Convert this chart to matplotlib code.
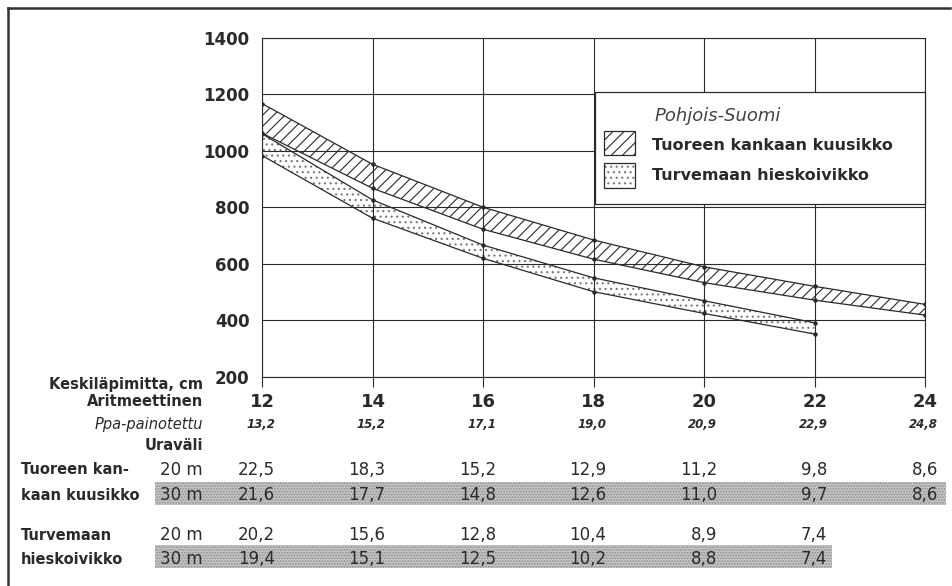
import matplotlib
matplotlib.use("Agg")
import matplotlib.pyplot as plt
import matplotlib.transforms as mtransforms
from matplotlib.patches import Rectangle
from matplotlib.lines import Line2D

# Keskiläpimitta (aritmeettinen), cm
diameters = [12, 14, 16, 18, 20, 22, 24]
ppa_weighted = [13.2, 15.2, 17.1, 19.0, 20.9, 22.9, 24.8]

# Tuoreen kankaan kuusikko, band limits
spruce_d = [12, 14, 16, 18, 20, 22, 24]
spruce_upper = [1167, 952, 800, 684, 589, 520, 456]
spruce_lower = [1062, 867, 722, 616, 533, 471, 418]

# Turvemaan hieskoivikko, band limits
birch_d = [12, 14, 16, 18, 20, 22]
birch_upper = [1060, 826, 666, 550, 469, 391]
birch_lower = [983, 761, 619, 501, 424, 351]

# table values (uraväli 20 m / 30 m)
spruce_20 = [22.5, 18.3, 15.2, 12.9, 11.2, 9.8, 8.6]
spruce_30 = [21.6, 17.7, 14.8, 12.6, 11.0, 9.7, 8.6]
birch_20 = [20.2, 15.6, 12.8, 10.4, 8.9, 7.4]
birch_30 = [19.4, 15.1, 12.5, 10.2, 8.8, 7.4]

yticks = [200, 400, 600, 800, 1000, 1200, 1400]

W, H = 952, 586
plt.rcParams['font.family'] = ['DejaVu Sans']
plt.rcParams['hatch.linewidth'] = 0.8
INK = '#2a2a2a'
DOTS = '#777777'


def fy(py):
    # pixel row -> figure fraction
    return 1 - py / H


def fmt(v):
    return f"{v:.1f}".replace('.', ',')


fig = plt.figure(figsize=(W / 100, H / 100), dpi=100)
ax = fig.add_axes([262 / W, fy(376.7), (925 - 262) / W, (376.7 - 37.7) / H])

ax.set_xlim(12, 24)
ax.set_ylim(200, 1400)
ax.set_xticks(diameters)
ax.set_yticks(yticks)
ax.grid(True, color=INK, linewidth=0.8)
for s in ax.spines.values():
    s.set_color(INK)
    s.set_linewidth(0.8)
ax.tick_params(axis='x', length=7, width=0.8, color=INK, labelbottom=False)
ax.tick_params(axis='y', length=0, pad=9, labelsize=12, labelcolor=INK)
for lab in ax.get_yticklabels():
    lab.set_fontweight('bold')

# bands
ax.fill_between(spruce_d, spruce_lower, spruce_upper, facecolor='none',
                edgecolor=INK, hatch='///', linewidth=0)
ax.fill_between(birch_d, birch_lower, birch_upper, facecolor='none',
                edgecolor=DOTS, hatch='...', linewidth=0)
for xs, ys in [(spruce_d, spruce_upper), (spruce_d, spruce_lower),
               (birch_d, birch_upper), (birch_d, birch_lower)]:
    ax.plot(xs, ys, color=INK, linewidth=0.9, marker='o', markersize=2.2)

# legend box
lx0, lx1, ly0, ly1 = 595, 925, 92, 204
fig.patches.append(Rectangle((lx0 / W, fy(ly1)), (lx1 - lx0) / W, (ly1 - ly0) / H,
                             transform=fig.transFigure, facecolor='white',
                             edgecolor=INK, linewidth=0.9, zorder=5))
fig.patches.append(Rectangle((604 / W, fy(155)), 31 / W, 24 / H, transform=fig.transFigure,
                             facecolor='white', edgecolor=INK, hatch='///',
                             linewidth=0.9, zorder=6))
fig.patches.append(Rectangle((604 / W, fy(188)), 31 / W, 25 / H, transform=fig.transFigure,
                             facecolor='white', edgecolor=DOTS, hatch='...',
                             linewidth=0, zorder=6))
fig.patches.append(Rectangle((604 / W, fy(188)), 31 / W, 25 / H, transform=fig.transFigure,
                             facecolor='none', edgecolor=INK, linewidth=0.9, zorder=6))
fig.text(655 / W, fy(116), 'Pohjois-Suomi', style='italic', fontweight='light',
         fontsize=13, color='#444444', va='center', zorder=7)
fig.text(652 / W, fy(146), 'Tuoreen kankaan kuusikko', fontweight='bold',
         fontsize=11.5, color=INK, va='center', zorder=7)
fig.text(652 / W, fy(175), 'Turvemaan hieskoivikko', fontweight='bold',
         fontsize=11.5, color=INK, va='center', zorder=7)

# table under the chart
tcol = mtransforms.blended_transform_factory(ax.transData, fig.transFigure)
tcol = mtransforms.offset_copy(tcol, fig=fig, x=13, y=0, units='dots')

left_r = 203 / W
fig.text(left_r, fy(384), 'Keskiläpimitta, cm', ha='right', va='center',
         fontweight='bold', fontsize=10.5, color=INK)
fig.text(left_r, fy(402), 'Aritmeettinen', ha='right', va='center',
         fontweight='bold', fontsize=10.5, color=INK)
fig.text(left_r, fy(424), 'Ppa-painotettu', ha='right', va='center',
         style='italic', fontsize=10.5, color=INK)
fig.text(left_r, fy(445), 'Uraväli', ha='right', va='center',
         fontweight='bold', fontsize=10.5, color=INK)

for d, p in zip(diameters, ppa_weighted):
    fig.text(d, fy(402), str(d), transform=tcol, ha='right', va='center',
             fontweight='bold', fontsize=13, color=INK)
    fig.text(d, fy(424), fmt(p), transform=tcol, ha='right', va='center',
             style='italic', fontweight='bold', fontsize=8.5, color=INK)

# shaded 30 m rows
fig.patches.append(Rectangle((155 / W, fy(505)), (946 - 155) / W, 23 / H,
                             transform=fig.transFigure, facecolor='#c4c4c4',
                             edgecolor='#8c8c8c', hatch='......', linewidth=0, zorder=0))
fig.patches.append(Rectangle((155 / W, fy(568)), (832 - 155) / W, 23 / H,
                             transform=fig.transFigure, facecolor='#c4c4c4',
                             edgecolor='#8c8c8c', hatch='......', linewidth=0, zorder=0))

rows = [
    ('Tuoreen kan-', '20 m', spruce_20, 470),
    ('kaan kuusikko', '30 m', spruce_30, 495),
    ('Turvemaan', '20 m', birch_20, 535),
    ('hieskoivikko', '30 m', birch_30, 559),
]
for name, spacing, vals, py in rows:
    fig.text(21 / W, fy(py), name, ha='left', va='center', fontweight='bold',
             fontsize=10.5, color=INK)
    fig.text(left_r, fy(py), spacing, ha='right', va='center',
             fontsize=12, color=INK)
    for d, v in zip(diameters, vals):
        fig.text(d, fy(py), fmt(v), transform=tcol, ha='right', va='center',
                 fontsize=12, color=INK)

# outer frame (top and left)
fig.lines.append(Line2D([8 / W, 950 / W], [fy(8), fy(8)], transform=fig.transFigure,
                        color='#333333', linewidth=1.8))
fig.lines.append(Line2D([8 / W, 8 / W], [fy(8), 0], transform=fig.transFigure,
                        color='#333333', linewidth=1.8))

fig.savefig('out.png', dpi=100)
